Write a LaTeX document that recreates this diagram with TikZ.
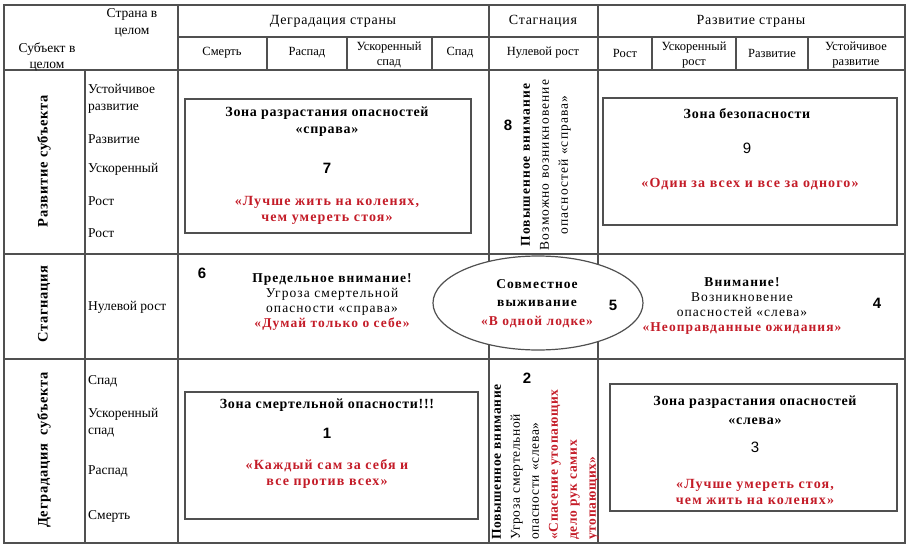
\documentclass[tikz,border=0pt]{standalone}
\usepackage{fontspec}
\setmainfont{Liberation Serif}
\newfontfamily\numfont{Liberation Sans}
\newfontfamily\wideserif[LetterSpace=8]{Liberation Serif}
\newfontfamily\midserif[LetterSpace=5]{Liberation Serif}
\usetikzlibrary{shapes.geometric}
\definecolor{mottored}{RGB}{196,28,40}
\definecolor{rulegray}{RGB}{80,80,80}

\begin{document}
\begin{tikzpicture}[x=1pt, y=-1pt,
    tableline/.style={draw=rulegray, line width=1.2pt},
    zone/.style={draw=rulegray, line width=1.2pt, rectangle, inner sep=0pt, fill=white},
    txt/.style={inner sep=0pt, align=center, font=\wideserif\fontsize{13.5}{15}\selectfont},
    head/.style={txt, font=\midserif\fontsize{14}{17}\selectfont},
    subhead/.style={txt, font=\fontsize{12.5}{15}\selectfont},
    sublabel/.style={inner sep=0pt, anchor=west, align=left, font=\fontsize{13.5}{17}\selectfont},
    side/.style={inner sep=0pt, rotate=90, font=\midserif\fontsize{14.5}{16}\selectfont\bfseries},
    strong/.style={txt, font=\midserif\fontsize{14}{17}\selectfont\bfseries},
    motto/.style={txt, text=mottored, font=\wideserif\fontsize{14}{16}\selectfont\bfseries},
    num/.style={inner sep=0pt, font=\fontsize{15}{15}\numfont\bfseries}
  ]
  \useasboundingbox (0,0) rectangle (911,549);

  % Frame and grid
  \draw[tableline] (4,5) rectangle (905,543);
  \draw[tableline] (4,70) -- (905,70);
  \draw[tableline] (178,37) -- (905,37);
  \draw[tableline] (4,254) -- (905,254);
  \draw[tableline] (4,359) -- (905,359);
  \draw[tableline] (178,5) -- (178,543);
  \draw[tableline] (85,70) -- (85,543);
  \draw[tableline] (489,5) -- (489,543);
  \draw[tableline] (598,5) -- (598,543);
  \foreach \x in {267,347,432,652,736,808}
    \draw[tableline] (\x,37) -- (\x,70);

  % Header
  \node[head, font=\fontsize{13.5}{17}\selectfont] (country) at (132,23) {Страна в\\целом};
  \node[head, font=\fontsize{13.5}{16}\selectfont] (subject) at (47,57) {Субъект в\\целом};
  \node[head] (degr) at (333,21) {Деградация страны};
  \node[head] (stag) at (543,21) {Стагнация};
  \node[head] (devel) at (751,21) {Развитие страны};

  \node[subhead] (death) at (222,53) {Смерть};
  \node[subhead] (decay) at (307,53) {Распад};
  \node[subhead] (fastdown) at (389,55) {Ускоренный\\спад};
  \node[subhead] (down) at (460,53) {Спад};
  \node[subhead] (zero) at (543,53) {Нулевой рост};
  \node[subhead] (growth) at (625,53) {Рост};
  \node[subhead] (fastup) at (694,55) {Ускоренный\\рост};
  \node[subhead] (develop) at (772,53) {Развитие};
  \node[subhead] (sustain) at (856,55) {Устойчивое\\развитие};

  % Subject side
  \node[side] (devsub) at (44,161) {Развитие субъекта};
  \node[side] (stagsub) at (44,304) {Стагнация};
  \node[side] (degsub) at (44,450) {Деградация\ \ субъекта};

  \node[sublabel] (s1) at (88,99) {Устойчивое\\развитие};
  \node[sublabel] (s2) at (88,139) {Развитие};
  \node[sublabel] (s3) at (88,169) {Ускоренный};
  \node[sublabel] (s4) at (88,201) {Рост};
  \node[sublabel] (s5) at (88,233) {Рост};
  \node[sublabel] (s6) at (88,307) {Нулевой рост};
  \node[sublabel] (s7) at (88,381) {Спад};
  \node[sublabel] (s8) at (88,423) {Ускоренный\\спад};
  \node[sublabel] (s9) at (88,471) {Распад};
  \node[sublabel] (s10) at (88,516) {Смерть};

  % Zones
  \node[zone, minimum width=286pt, minimum height=134pt] (zone7) at (328,166) {};
  \node[strong] at (327,121.5) {Зона разрастания опасностей\\«справа»};
  \node[num] (n7) at (327,168) {7};
  \node[motto] at (327,210) {«Лучше жить на коленях,\\чем умереть стоя»};

  \node[zone, minimum width=294pt, minimum height=127pt] (zone9) at (750,161.5) {};
  \node[strong] at (747,114) {Зона безопасности};
  \node[num, font=\fontsize{15}{15}\numfont] (n9) at (747,148) {9};
  \node[motto] at (750,184) {«Один за всех и все за одного»};

  \node[zone, minimum width=293pt, minimum height=127pt] (zone1) at (331.5,455.5) {};
  \node[strong] at (327,405) {Зона смертельной опасности!!!};
  \node[num] (n1) at (327,433) {1};
  \node[motto] at (327,474) {«Каждый сам за себя и\\все против всех»};

  \node[zone, minimum width=287pt, minimum height=127pt] (zone3) at (753.5,447.5) {};
  \node[strong, font=\midserif\fontsize{14}{19}\selectfont\bfseries] at (755,410) {Зона разрастания опасностей\\«слева»};
  \node[num, font=\fontsize{15}{15}\numfont] (n3) at (755,447) {3};
  \node[motto] at (755,492) {«Лучше умереть стоя,\\чем жить на коленях»};

  % Stagnation row
  \node[num] (n6) at (202,273) {6};
  \node[txt] (left) at (332,302) {{\bfseries Предельное внимание!}\\Угроза смертельной\\опасности «справа»\\{\color{mottored}\bfseries «Думай только о себе»}};

  \node[draw=rulegray, line width=1.2pt, ellipse, fill=white, inner sep=0pt,
        minimum width=210pt, minimum height=94pt] (together) at (538,303) {};
  \node[txt, font=\wideserif\fontsize{13.5}{18.5}\selectfont\bfseries] at (537,303.5) {Совместное\\выживание\\{\color{mottored}«В одной лодке»}};
  \node[num] (n5) at (613,305) {5};

  \node[txt] (right) at (742,306.5) {{\bfseries Внимание!}\\Возникновение\\опасностей «слева»\\{\color{mottored}\bfseries «Неоправданные ожидания»}};
  \node[num] (n4) at (877,303) {4};

  % Stagnation column
  \node[num] (n8) at (508,125) {8};
  \node[txt, rotate=90, font=\wideserif\fontsize{13.5}{19}\selectfont] (upper) at (546,165) {{\bfseries Повышенное внимание}\\Возможно возникновение\\опасностей «справа»};

  \node[num] (n2) at (527,378) {2};
  \node[txt, rotate=90, anchor=west, align=left, font=\midserif\fontsize{13.5}{19}\selectfont] (lower) at (545.5,540) {{\bfseries Повышенное внимание}\\Угроза смертельной\\опасности «слева»\\{\color{mottored}\bfseries «Спасение утопающих}\\{\color{mottored}\bfseries дело рук самих}\\{\color{mottored}\bfseries утопающих»}};
\end{tikzpicture}
\end{document}
